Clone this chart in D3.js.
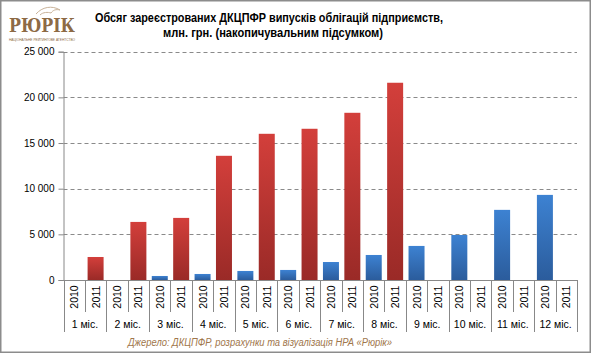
<!DOCTYPE html>
<html><head><meta charset="utf-8">
<script src="https://cdn.jsdelivr.net/npm/d3@7"></script>
<style>
html,body{margin:0;padding:0;background:#fff;}
svg{display:block;font-family:"Liberation Sans",Arial,sans-serif;}
</style></head>
<body>
<svg id="c" width="592" height="356"></svg>
<script>
const months = ["1 міс.","2 міс.","3 міс.","4 міс.","5 міс.","6 міс.","7 міс.","8 міс.","9 міс.","10 міс.","11 міс.","12 міс."];
const years = ["2010","2011"];
const values2010 = [0, 0, 440, 660, 990, 1100, 1970, 2740, 3730, 4930, 7680, 9320];
const values2011 = [2520, 6360, 6800, 13600, 16010, 16560, 18310, 21600, null, null, null, null];
const yTicks = [0, 5000, 10000, 15000, 20000, 25000];

(function(){
const svg = d3.select("#c");
const defs = svg.append("defs");
function grad(id, c1, c2){
  const g = defs.append("linearGradient").attr("id", id).attr("x1",0).attr("y1",0).attr("x2",0).attr("y2",1);
  g.append("stop").attr("offset","0%").attr("stop-color",c1);
  g.append("stop").attr("offset","100%").attr("stop-color",c2);
}
grad("gRed", "#d33f3b", "#9a2a27");
grad("gBlue", "#3d82d2", "#2b5c9c");

// border
svg.append("rect").attr("x",0.75).attr("y",0.75).attr("width",589.5).attr("height",351.5)
  .attr("fill","#fff").attr("stroke","#8c8c8c").attr("stroke-width",1.5);

const pLeft = 63.5, pRight = 577, pTop = 51.7, pBottom = 280;
const y = d3.scaleLinear().domain([0,25000]).range([pBottom, pTop]);
const xm = d3.scaleBand().domain(months).range([pLeft, pRight]);
const xy = d3.scaleBand().domain(years).range([0, xm.bandwidth()]);

// gridlines
svg.append("g").selectAll("line").data(yTicks.filter(d=>d>0)).join("line")
  .attr("x1", pLeft).attr("x2", pRight).attr("y1", d=>Math.round(y(d))+0.5).attr("y2", d=>Math.round(y(d))+0.5)
  .attr("stroke","#8a8a8a").attr("stroke-width",1).attr("stroke-dasharray","4,3");

// y axis
const yAxis = d3.axisLeft(y).tickValues(yTicks).tickSize(5).tickPadding(4)
  .tickFormat(d => d3.format(",")(d).replace(/,/g, " "));
const ga = svg.append("g").attr("transform", `translate(${pLeft},0)`).call(yAxis);
ga.select(".domain").attr("stroke","#888");
ga.selectAll(".tick line").attr("stroke","#888");
ga.selectAll("text").attr("font-size","10px").attr("fill","#000")
  .attr("font-family","'Liberation Sans',Arial,sans-serif");

// bars
const barW = 16;
const data = [];
months.forEach((m,i)=>{
  data.push({m, yr:"2010", v: values2010[i]});
  data.push({m, yr:"2011", v: values2011[i]});
});
svg.append("g").selectAll("rect").data(data.filter(d=>d.v)).join("rect")
  .attr("x", d => xm(d.m) + xy(d.yr) + (xy.bandwidth()-barW)/2)
  .attr("width", barW)
  .attr("y", d => y(d.v))
  .attr("height", d => pBottom - y(d.v))
  .attr("fill", d => d.yr === "2010" ? "url(#gBlue)" : "url(#gRed)");

// x axis baseline
svg.append("line").attr("x1", pLeft).attr("x2", pRight).attr("y1", pBottom+0.5).attr("y2", pBottom+0.5)
  .attr("stroke","#888");

// category dividers
const gx = svg.append("g");
months.forEach((m)=>{
  const x0 = xm(m);
  gx.append("line").attr("x1", Math.round(x0)+0.5).attr("x2", Math.round(x0)+0.5)
    .attr("y1", pBottom).attr("y2", 332).attr("stroke","#888");
  const xmid = x0 + xy("2011");
  gx.append("line").attr("x1", Math.round(xmid)+0.5).attr("x2", Math.round(xmid)+0.5)
    .attr("y1", pBottom).attr("y2", 312).attr("stroke","#888");
  years.forEach(yr=>{
    const cx = x0 + xy(yr) + xy.bandwidth()/2;
    gx.append("text").attr("transform", `translate(${cx+4},297) rotate(-90)`)
      .attr("text-anchor","middle").attr("font-size","10.5px").attr("fill","#000").text(yr);
  });
  gx.append("text").attr("x", x0 + xm.bandwidth()/2).attr("y", 328)
    .attr("text-anchor","middle").attr("font-size","10.5px").attr("fill","#000").text(m);
});
gx.append("line").attr("x1", Math.round(pRight)+0.5).attr("x2", Math.round(pRight)+0.5)
  .attr("y1", pBottom).attr("y2", 332).attr("stroke","#888");

// title
const title = svg.append("text").attr("text-anchor","middle").attr("font-weight","bold")
  .attr("font-size","12.5px").attr("fill","#000");
title.append("tspan").attr("x", 269).attr("y", 22).attr("textLength", 348).attr("lengthAdjust","spacingAndGlyphs")
  .text("Обсяг зареєстрованих ДКЦПФР випусків облігацій підприємств,");
title.append("tspan").attr("x", 273).attr("y", 37).attr("textLength", 220).attr("lengthAdjust","spacingAndGlyphs")
  .text("млн. грн. (накопичувальним підсумком)");

// logo
const logo = svg.append("g");
logo.append("text").attr("x", 42).attr("y", 32).attr("text-anchor","middle")
  .attr("font-family","'DejaVu Serif',serif").attr("font-size","19px").attr("font-weight","bold")
  .attr("fill","#8d6a45").attr("textLength", 66).attr("lengthAdjust","spacingAndGlyphs").text("РЮРІК");
logo.append("text").attr("x", 42).attr("y", 40.5).attr("text-anchor","middle")
  .attr("font-size","3.5px").attr("fill","#8d6a45").attr("textLength", 66).attr("lengthAdjust","spacingAndGlyphs")
  .text("НАЦІОНАЛЬНЕ РЕЙТИНГОВЕ АГЕНТСТВО");
logo.append("path").attr("d","M36,14 C42,7 52,5 60,10 C56,9 53,10 51,13 C48,12 43,12 40,15")
  .attr("fill","none").attr("stroke","#c9b39a").attr("stroke-width",1);

// source
svg.append("text").attr("x", 260).attr("y", 346).attr("text-anchor","middle")
  .attr("font-style","italic").attr("font-size","10px").attr("fill","#a0764b")
  .attr("textLength", 264).attr("lengthAdjust","spacingAndGlyphs")
  .text("Джерело: ДКЦПФР,  розрахунки та  візуалізація НРА «Рюрік»");
})();
</script>
</body></html>
